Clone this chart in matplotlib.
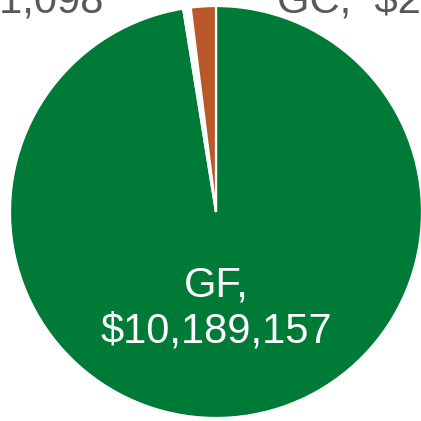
import matplotlib
matplotlib.use("Agg")
import matplotlib.pyplot as plt

categories = ["GF", "SF", "GC"]
values = [10189157, 61098, 205312]
colors = ["#007A37", "#FFFFFF", "#B9592A"]

plt.rcParams['font.family'] = ['Liberation Sans', 'DejaVu Sans']

fig = plt.figure(figsize=(4.21, 4.21), dpi=100)
ax = fig.add_axes([0, 0, 1, 1])
ax.axis('off')

ax.pie(values, colors=colors, startangle=90, counterclock=False,
       center=(216, 209), radius=206,
       wedgeprops=dict(edgecolor='white', linewidth=1.6))
ax.set_xlim(0, 421)
ax.set_ylim(0, 421)
ax.set_aspect('equal')

def fmt(v):
    return "${:,}".format(v)

fs = 30
ax.text(216, 421 - 286, f"{categories[0]},", color='white', fontsize=fs,
        ha='center', va='center')
ax.text(216, 421 - 332, fmt(values[0]), color='white', fontsize=fs,
        ha='center', va='center')

ax.text(103, 421 - 13, f"{categories[1]}, {fmt(values[1])}", color='#595959',
        fontsize=fs, ha='right', va='baseline')
ax.text(277, 421 - 13, f"{categories[2]},  {fmt(values[2])}", color='#595959',
        fontsize=fs, ha='left', va='baseline')

fig.savefig("out.png", dpi=100)
